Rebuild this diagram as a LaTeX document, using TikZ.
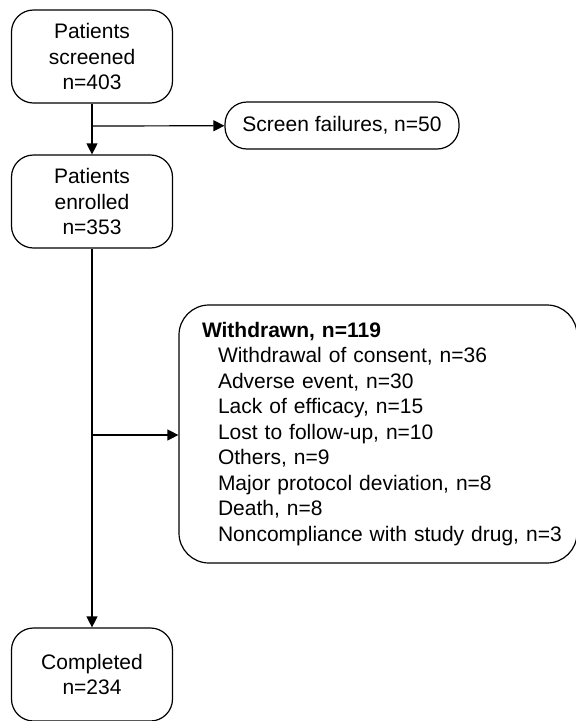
\documentclass[tikz,border=0pt]{standalone}
\usepackage{fontspec}
\setmainfont{Liberation Sans}
\usetikzlibrary{arrows.meta}

\begin{document}
\begin{tikzpicture}[x=1pt,y=-1pt]
\tikzset{stage/.style = {shape=rectangle,draw,rounded corners=22pt,line width=1.2pt,
  minimum width=161pt,minimum height=93pt,align=center,inner sep=0pt,
  font=\fontsize{21}{25.5}\selectfont}}
\tikzset{exitbox/.style = {shape=rectangle,draw,line width=1.2pt,inner sep=0pt,
  font=\fontsize{21}{25.5}\selectfont}}
\tikzset{edge/.style = {line width=1.2pt,-{Triangle[length=11pt,width=11pt]}}}
\newcommand{\reason}[1]{\\\hspace*{16pt}\mbox{#1}}
\useasboundingbox (0,0) rectangle (576,721);
\clip (0,0) rectangle (576,721);
\node[stage] (screen) at (92,56.5) {Patients\\screened\\n=403};
\node[stage] (enrol) at (92,201.5) {Patients\\enrolled\\n=353};
\node[stage] (done) at (92,674.5) {Completed\\n=234};
\node[exitbox,rounded corners=22pt,minimum width=234pt,minimum height=47pt] (fail) at (342,125.5) {Screen failures, n=50};
\node[exitbox,rounded corners=30pt,minimum width=398pt,minimum height=258pt,
  inner xsep=23pt,text width=352pt,align=left] (out) at (378,434)
  {\textbf{Withdrawn, n=119}%
   \reason{Withdrawal of consent, n=36}%
   \reason{Adverse event, n=30}%
   \reason{Lack of efficacy, n=15}%
   \reason{Lost to follow-up, n=10}%
   \reason{Others, n=9}%
   \reason{Major protocol deviation, n=8}%
   \reason{Death, n=8}%
   \reason{Noncompliance with study drug, n=3}};
\coordinate (s1) at (92,126);
\coordinate (s2) at (92,435);
\draw[edge] (screen) to (enrol);
\draw[edge] (s1) to (fail);
\draw[edge] (enrol) to (done);
\draw[edge] (s2) to (out.west |- s2);
\end{tikzpicture}
\end{document}
